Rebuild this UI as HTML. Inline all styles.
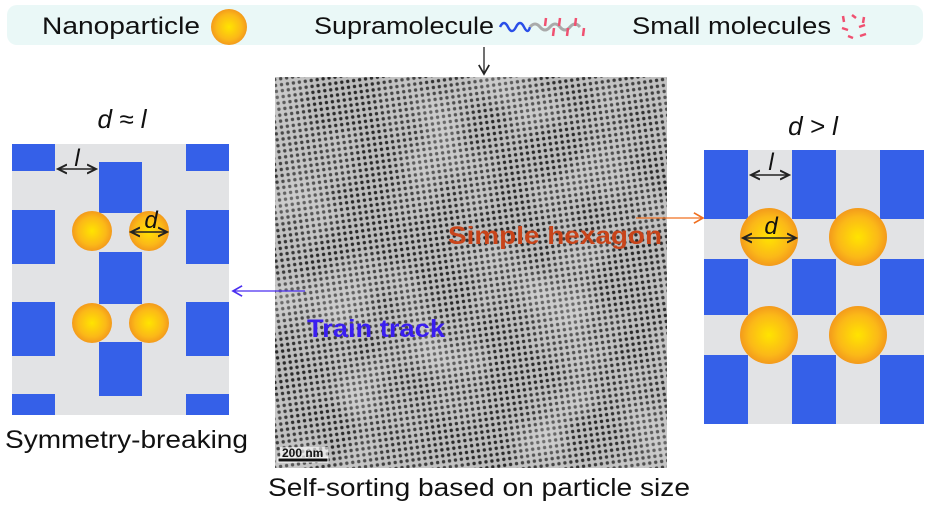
<!DOCTYPE html>
<html><head><meta charset="utf-8"><style>
html,body{margin:0;padding:0;background:#fff;}
svg{display:block;font-family:"Liberation Sans",sans-serif;}
</style></head><body>
<svg width="933" height="507" viewBox="0 0 933 507">
<defs>
<radialGradient id="np" cx="50%" cy="50%" r="50%">
<stop offset="0" stop-color="#ffe400"/><stop offset="0.7" stop-color="#fbb818"/><stop offset="1" stop-color="#f39a1c"/>
</radialGradient>
<pattern id="dots" width="6" height="6" patternUnits="userSpaceOnUse" patternTransform="rotate(-8)">
<rect width="6" height="6" fill="#bcbcbc"/><circle cx="3" cy="3" r="1.7" fill="#2a2a2a"/>
</pattern>
<filter id="noise" x="0" y="0" width="100%" height="100%"><feTurbulence type="fractalNoise" baseFrequency="0.015" numOctaves="2" seed="3"/>
<feColorMatrix values="0 0 0 0 0.85  0 0 0 0 0.85  0 0 0 0 0.85  0 0 0 0.9 -0.35"/></filter>
<clipPath id="temclip"><rect x="275" y="77" width="392" height="391"/></clipPath>
<marker id="ak" markerWidth="10" markerHeight="10" refX="8" refY="5" orient="auto"><path d="M1,1 L8,5 L1,9" fill="none" stroke="#222" stroke-width="1.3"/></marker>
<marker id="ab" markerWidth="10" markerHeight="10" refX="8" refY="5" orient="auto"><path d="M1,1 L8,5 L1,9" fill="none" stroke="#4a2ef0" stroke-width="1.3"/></marker>
<marker id="ao" markerWidth="10" markerHeight="10" refX="8" refY="5" orient="auto"><path d="M1,1 L8,5 L1,9" fill="none" stroke="#f07020" stroke-width="1.3"/></marker>
<marker id="dk" markerWidth="8" markerHeight="8" refX="6" refY="4" orient="auto-start-reverse"><path d="M0,1 L6,4 L0,7" fill="none" stroke="#222" stroke-width="1.3"/></marker>
</defs>

<g>
<rect x="7" y="5" width="916" height="40" rx="10" fill="#eaf8f7"/>
<text x="42" y="34" font-size="24" fill="#111" textLength="158" lengthAdjust="spacingAndGlyphs">Nanoparticle</text>
<circle cx="229" cy="27" r="18" fill="url(#np)"/>
<text x="314" y="34" font-size="24" fill="#111" textLength="180" lengthAdjust="spacingAndGlyphs">Supramolecule</text>
<g>
<path d="M500,27 q4,-8 8,0 t8,0 t8,0 t6,0" fill="none" stroke="#2a4ee8" stroke-width="2.5"/>
<path d="M530,27 q5,-6 10,0 t10,0 t10,0 t10,0 t10,0" fill="none" stroke="#aaa" stroke-width="3"/>
<g stroke="#f05070" stroke-width="2.5"><line x1="546" y1="18" x2="545" y2="26"/><line x1="554" y1="28" x2="553" y2="36"/><line x1="560" y1="18" x2="559" y2="26"/><line x1="568" y1="28" x2="567" y2="36"/><line x1="576" y1="18" x2="575" y2="26"/><line x1="584" y1="28" x2="583" y2="36"/></g>
</g>
<text x="632" y="34" font-size="24" fill="#111" textLength="199" lengthAdjust="spacingAndGlyphs">Small molecules</text>
<g stroke="#f05070" stroke-width="2.5">
<line x1="843" y1="16" x2="844" y2="22"/><line x1="852" y1="15" x2="856" y2="18"/><line x1="864" y1="17" x2="863" y2="23"/><line x1="842" y1="28" x2="848" y2="30"/><line x1="859" y1="27" x2="865" y2="25"/><line x1="848" y1="36" x2="853" y2="38"/><line x1="860" y1="36" x2="866" y2="34"/></g>
</g>
<line x1="484" y1="47" x2="484" y2="74" stroke="#222" stroke-width="1.3" marker-end="url(#ak)"/>

<g clip-path="url(#temclip)">
<rect x="275" y="77" width="392" height="391" fill="url(#dots)"/>
<rect x="275" y="77" width="392" height="391" filter="url(#noise)"/>
<rect x="280" y="447" width="48" height="15" fill="#fff" opacity="0.6"/>
<text x="282" y="457" font-size="12" font-weight="bold" fill="#111">200 nm</text>
<rect x="278" y="458" width="50" height="4" fill="#111" stroke="#fff" stroke-width="1"/>
</g>
<text x="448" y="244" font-size="25" font-weight="bold" fill="#c8441a" textLength="214" lengthAdjust="spacingAndGlyphs">Simple hexagon</text>
<text x="307" y="337" font-size="25" font-weight="bold" fill="#3a1ef0" textLength="138" lengthAdjust="spacingAndGlyphs">Train track</text>
<line x1="305" y1="291" x2="233" y2="291" stroke="#4a2ef0" stroke-width="1.3" marker-end="url(#ab)"/>
<line x1="636" y1="218" x2="703" y2="218" stroke="#f07020" stroke-width="1.3" marker-end="url(#ao)"/>
<text x="268" y="496" font-size="25" fill="#111" textLength="422" lengthAdjust="spacingAndGlyphs">Self-sorting based on particle size</text>

<g>
<text x="122" y="128" font-size="26" font-style="italic" fill="#111" text-anchor="middle">d ≈ l</text>
<rect x="12" y="144" width="217" height="271" fill="#e2e3e5"/>
<g fill="#3560e8">
<rect x="12" y="144" width="43" height="27"/><rect x="12" y="210" width="43" height="54"/><rect x="12" y="302" width="43" height="54"/><rect x="12" y="394" width="43" height="21"/>
<rect x="186" y="144" width="43" height="27"/><rect x="186" y="210" width="43" height="54"/><rect x="186" y="302" width="43" height="54"/><rect x="186" y="394" width="43" height="21"/>
<rect x="99" y="162" width="43" height="51"/><rect x="99" y="252" width="43" height="52"/><rect x="99" y="342" width="43" height="54"/>
</g>
<circle cx="92" cy="231" r="20" fill="url(#np)"/><circle cx="149" cy="231" r="20" fill="url(#np)"/>
<circle cx="92" cy="323" r="20" fill="url(#np)"/><circle cx="149" cy="323" r="20" fill="url(#np)"/>
<line x1="58" y1="169" x2="96" y2="169" stroke="#222" stroke-width="1.5" marker-start="url(#dk)" marker-end="url(#dk)"/>
<text x="77" y="166" font-size="24" font-style="italic" fill="#111" text-anchor="middle">l</text>
<line x1="131" y1="232" x2="167" y2="232" stroke="#222" stroke-width="1.5" marker-start="url(#dk)" marker-end="url(#dk)"/>
<text x="151" y="228" font-size="24" font-style="italic" fill="#111" text-anchor="middle">d</text>
<text x="5" y="448" font-size="25" fill="#111" textLength="243" lengthAdjust="spacingAndGlyphs">Symmetry-breaking</text>
</g>

<g>
<text x="813" y="135" font-size="26" font-style="italic" fill="#111" text-anchor="middle">d &gt; l</text>
<rect x="704" y="150" width="220" height="274" fill="#e2e3e5"/>
<g fill="#3560e8">
<rect x="704" y="150" width="44" height="69"/><rect x="704" y="259" width="44" height="56"/><rect x="704" y="355" width="44" height="69"/>
<rect x="792" y="150" width="44" height="69"/><rect x="792" y="259" width="44" height="56"/><rect x="792" y="355" width="44" height="69"/>
<rect x="880" y="150" width="44" height="69"/><rect x="880" y="259" width="44" height="56"/><rect x="880" y="355" width="44" height="69"/>
</g>
<circle cx="769" cy="237" r="29" fill="url(#np)"/><circle cx="858" cy="237" r="29" fill="url(#np)"/>
<circle cx="769" cy="335" r="29" fill="url(#np)"/><circle cx="858" cy="335" r="29" fill="url(#np)"/>
<line x1="751" y1="175" x2="789" y2="175" stroke="#222" stroke-width="1.5" marker-start="url(#dk)" marker-end="url(#dk)"/>
<text x="771" y="170" font-size="24" font-style="italic" fill="#111" text-anchor="middle">l</text>
<line x1="743" y1="238" x2="796" y2="238" stroke="#222" stroke-width="1.5" marker-start="url(#dk)" marker-end="url(#dk)"/>
<text x="771" y="234" font-size="24" font-style="italic" fill="#111" text-anchor="middle">d</text>
</g>
</svg>
</body></html>
